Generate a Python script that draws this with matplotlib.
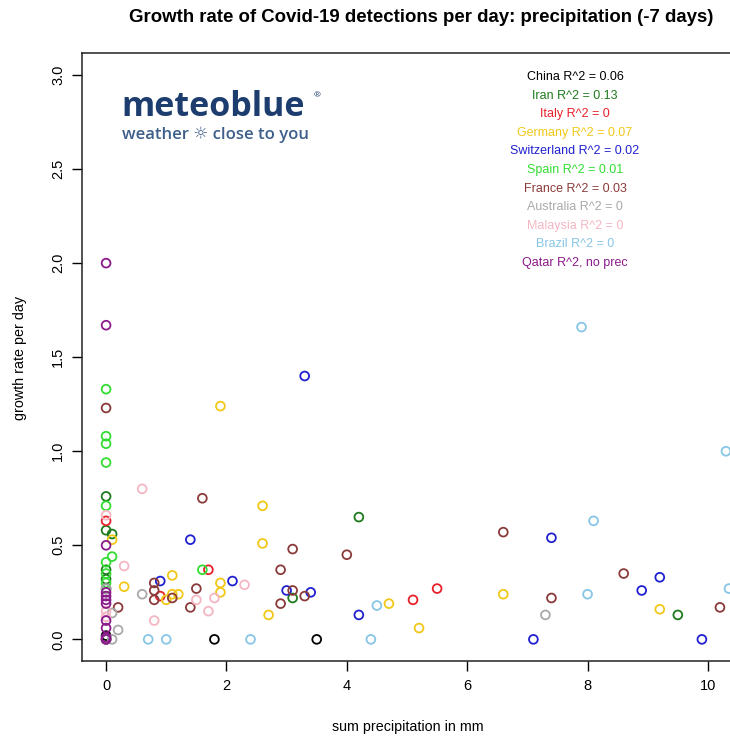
import matplotlib.pyplot as plt

plt.rcParams['font.family'] = ['Liberation Sans', 'DejaVu Sans']

countries = ['China', 'Iran', 'Italy', 'Germany', 'Switzerland', 'Spain',
             'France', 'Australia', 'Malaysia', 'Brazil', 'Qatar']
colors = ['#000000', '#1E7B1E', '#E8202A', '#F2C818', '#2020D0', '#33DD33',
          '#8B3A3A', '#A9A9A9', '#F4B6C2', '#87C6E6', '#8B1A8B']
labels = ['China R^2 = 0.06', 'Iran R^2 = 0.13', 'Italy R^2 = 0', 'Germany R^2 = 0.07',
          'Switzerland R^2 = 0.02', 'Spain R^2 = 0.01', 'France R^2 = 0.03',
          'Australia R^2 = 0', 'Malaysia R^2 = 0', 'Brazil R^2 = 0', 'Qatar R^2, no prec']

# precipitation sum (mm) and growth rate per day, one pair of lists per country
china_x = [1.8, 3.5, 0, 0]
china_y = [0, 0, 0, 0.02]
iran_x = [0, 0, 0.1, 0, 0, 4.2, 3.1, 9.5, 0]
iran_y = [0.76, 0.58, 0.56, 0.37, 0.32, 0.65, 0.22, 0.13, 0.27]
italy_x = [0, 0.9, 1.7, 5.1, 5.5, 0]
italy_y = [0.63, 0.23, 0.37, 0.21, 0.27, 0]
germany_x = [0.1, 0.3, 1.0, 1.1, 1.1, 1.2, 1.9, 1.9, 1.9, 2.6, 2.6, 2.7, 4.7, 5.2, 6.6, 9.2]
germany_y = [0.53, 0.28, 0.21, 0.34, 0.24, 0.24, 0.30, 0.25, 1.24, 0.71, 0.51, 0.13,
             0.19, 0.06, 0.24, 0.16]
swiss_x = [0.9, 1.4, 2.1, 3.0, 3.4, 3.3, 4.2, 7.1, 7.4, 8.9, 9.2, 9.9]
swiss_y = [0.31, 0.53, 0.31, 0.26, 0.25, 1.40, 0.13, 0, 0.54, 0.26, 0.33, 0]
spain_x = [0, 0, 0, 0, 0, 0.1, 0, 0, 0, 1.6]
spain_y = [1.33, 1.08, 1.04, 0.94, 0.71, 0.44, 0.41, 0.35, 0.30, 0.37]
france_x = [0, 0.2, 0.8, 0.8, 0.8, 1.1, 1.4, 1.5, 1.6, 2.9, 2.9, 3.1, 3.1, 3.3, 4.0,
            6.6, 7.4, 8.6, 10.2]
france_y = [1.23, 0.17, 0.30, 0.26, 0.21, 0.22, 0.17, 0.27, 0.75, 0.37, 0.19, 0.48,
            0.26, 0.23, 0.45, 0.57, 0.22, 0.35, 0.17]
australia_x = [0.1, 0.2, 0.1, 0.6, 7.3, 0]
australia_y = [0.14, 0.05, 0.0, 0.24, 0.13, 0.27]
malaysia_x = [0, 0.3, 0.6, 0.8, 1.5, 1.7, 1.8, 2.3, 0, 0]
malaysia_y = [0.66, 0.39, 0.80, 0.10, 0.21, 0.15, 0.22, 0.29, 0.15, 0.12]
brazil_x = [0.7, 1.0, 2.4, 4.4, 4.5, 7.9, 8.0, 8.1, 10.3, 10.35, 0]
brazil_y = [0, 0, 0, 0, 0.18, 1.66, 0.24, 0.63, 1.0, 0.27, 0]
qatar_x = [0, 0, 0, 0, 0, 0, 0, 0, 0, 0, 0]
qatar_y = [2.0, 1.67, 0.5, 0.25, 0.23, 0.21, 0.19, 0.10, 0.06, 0.01, 0]

series = [(china_x, china_y), (iran_x, iran_y), (italy_x, italy_y),
          (germany_x, germany_y), (swiss_x, swiss_y), (spain_x, spain_y),
          (france_x, france_y), (australia_x, australia_y),
          (malaysia_x, malaysia_y), (brazil_x, brazil_y), (qatar_x, qatar_y)]

fig = plt.figure(figsize=(7.3, 7.36), dpi=100)
ax = fig.add_axes([82 / 730, 1 - 661 / 736, 650 / 730, (661 - 53) / 736])

for (xs, ys), c in zip(series, colors):
    ax.scatter(xs, ys, s=40, facecolors='none', edgecolors=c, linewidths=1.3, zorder=3)

ax.set_xlim(-0.4, 10.4)
ax.set_ylim(-0.115, 3.117)
ax.set_xticks([0, 2, 4, 6, 8, 10])
ax.set_yticks([0, 0.5, 1.0, 1.5, 2.0, 2.5, 3.0])
ax.set_yticklabels(['0.0', '0.5', '1.0', '1.5', '2.0', '2.5', '3.0'],
                   rotation=90, va='center')
ax.tick_params(direction='out', length=7, width=1, labelsize=10.5, pad=6)
ax.tick_params(axis='y', pad=5)
for sp in ax.spines.values():
    sp.set_linewidth(1.1)
    sp.set_color('#222222')

# legend as coloured text lines
for i, (lab, c) in enumerate(zip(labels, colors)):
    fig.text(575 / 730, 1 - (77 + i * 18.6) / 736, lab, color=c, fontsize=9,
             ha='center', va='center')

# meteoblue logo
fig.text(121 / 730, 1 - 107 / 736, 'meteoblue', color='#1C3D6E', fontsize=24.5,
         fontweight='bold', family=['Open Sans', 'DejaVu Sans'], va='center')
fig.text(314 / 730, 1 - 96 / 736, '®', color='#1C3D6E', fontsize=6,
         family=['Open Sans', 'DejaVu Sans'], va='center')
fig.text(122 / 730, 1 - 135 / 736, 'weather ☼ close to you', color='#3E5F8A',
         fontsize=12, fontweight='semibold', family=['Open Sans', 'DejaVu Sans'],
         va='center')

fig.text(421 / 730, 1 - 18 / 736,
         'Growth rate of Covid-19 detections per day: precipitation (-7 days)',
         fontsize=13.4, fontweight='bold', ha='center', va='center')
fig.text(408 / 730, 1 - 727 / 736, 'sum precipitation in mm', fontsize=10.3,
         ha='center', va='center')
fig.text(20 / 730, 1 - 358 / 736, 'growth rate per day', fontsize=10.3,
         rotation=90, ha='center', va='center')

fig.savefig('out.png', dpi=100)
